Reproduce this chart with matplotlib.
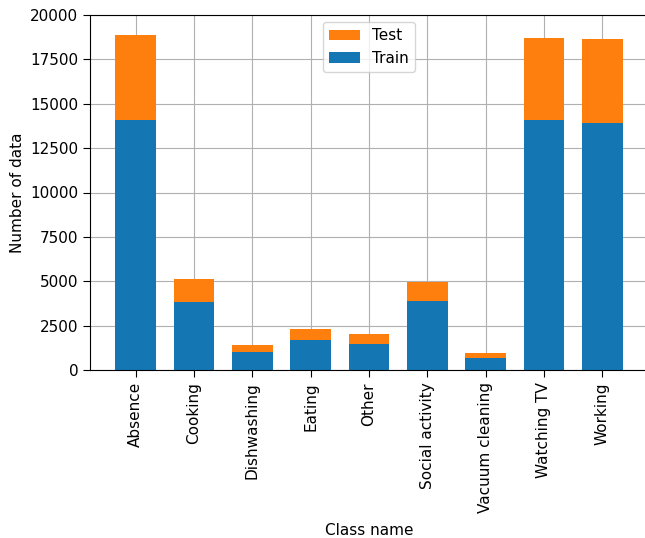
import numpy as np
import matplotlib
matplotlib.use('Agg')
import matplotlib.pyplot as plt

plt.rcParams['font.size'] = 11

# 클래스별 데이터 개수
class_names = ["Absence", "Cooking", "Dishwashing", "Eating", "Other",
               "Social activity", "Vacuum cleaning", "Watching TV", "Working"]
train_counts = [14100, 3840, 1050, 1700, 1480, 3900, 690, 14100, 13910]
test_counts = [4780, 1300, 375, 620, 560, 1085, 285, 4590, 4720]

x = np.arange(len(class_names))

fig = plt.figure(figsize=(6.45, 5.38), dpi=100)
ax = fig.add_axes([90 / 645, 1 - 370.3 / 538, 558 / 645, 355.6 / 538])

ax.set_axisbelow(True)
ax.grid(True, color='#b0b0b0', linewidth=0.8)
b_train = ax.bar(x, train_counts, width=0.7, color='#1576b4', label='Train')
b_test = ax.bar(x, test_counts, width=0.7, bottom=train_counts, color='#ff7f0e', label='Test')

ax.set_ylim(0, 20000)
ax.set_xticks(x)
ax.set_xticklabels(class_names, rotation=90)
ax.tick_params(length=5)
ax.spines['right'].set_visible(False)  # 오른쪽 테두리는 잘려서 안 보임
ax.set_xlabel("Class name", labelpad=7)
ax.set_ylabel("Number of data")
ax.legend([b_test, b_train], ["Test", "Train"], loc='upper center')

plt.savefig("out.png", dpi=100)
